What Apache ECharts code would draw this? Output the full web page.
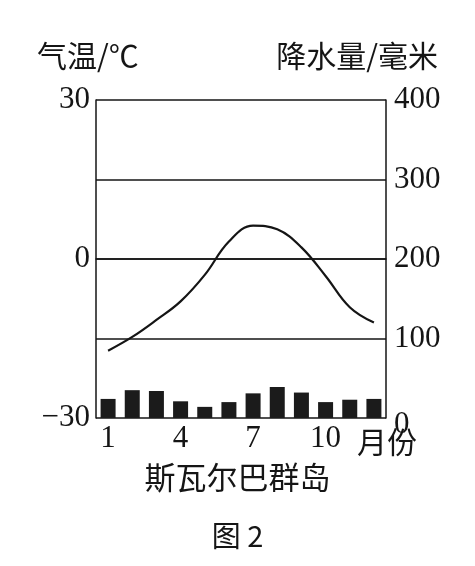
<!DOCTYPE html>
<html>
<head>
<meta charset="utf-8">
<script src="https://cdn.jsdelivr.net/npm/echarts@6/dist/echarts.min.js"></script>
<style>html,body{margin:0;padding:0;background:#fff}#c{width:475px;height:566px}</style>
</head>
<body>
<div id="c"></div>
<script>
var months = ['1','2','3','4','5','6','7','8','9','10','11','12'];
var temperature = [-17.3,-14.7,-11.5,-8.0,-3.0,3.3,6.3,5.6,2.2,-3.2,-9.1,-12.0];
var precipitation = [24,35,34,21,14,20,31,39,32,20,23,24];
var tempTicks = [30, 0, -30];
var shownMonths = ['1','4','7','10'];

var ink = '#151515';
var cjk = '"Noto Sans CJK SC", sans-serif';
var serif = '"Liberation Serif", "DejaVu Serif", serif';

var chart = echarts.init(document.getElementById('c'));
chart.setOption({
  backgroundColor: '#fff',
  animation: false,
  grid: { left: 96, right: 89, top: 100, bottom: 148 },
  xAxis: {
    type: 'category',
    data: months,
    boundaryGap: true,
    axisLine: { show: true, lineStyle: { color: ink, width: 1.5 } },
    axisTick: { show: false },
    axisLabel: {
      margin: 5,
      fontSize: 31, fontFamily: serif, color: ink,
      interval: 0,
      formatter: function (v) { return shownMonths.indexOf(v) >= 0 ? v : ''; }
    },
    splitLine: { show: false }
  },
  yAxis: [
    {
      type: 'value', min: -30, max: 30, interval: 15,
      axisLine: { show: true, lineStyle: { color: ink, width: 1.5 } },
      axisTick: { show: false },
      splitLine: { show: true, lineStyle: { color: ink, width: 1.5 } },
      axisLabel: {
        margin: 6, fontSize: 31, fontFamily: serif, color: ink,
        formatter: function (v) {
          if (tempTicks.indexOf(v) < 0) return '';
          return v < 0 ? '\u2212' + Math.abs(v) : String(v);
        }
      }
    },
    {
      type: 'value', min: 0, max: 400, interval: 100, position: 'right',
      axisLine: { show: true, lineStyle: { color: ink, width: 1.5 } },
      axisTick: { show: false },
      splitLine: { show: false },
      axisLabel: {
        margin: 8, fontSize: 31, fontFamily: serif, color: ink,
        formatter: function (v) { return v === 0 ? '{z|0}' : String(v); },
        rich: { z: { fontSize: 31, fontFamily: serif, color: ink, padding: [14, 0, 0, 0] } }
      }
    }
  ],
  series: [
    {
      type: 'bar', yAxisIndex: 1, data: precipitation,
      barWidth: 15,
      itemStyle: { color: '#1b1b1b' }
    },
    {
      type: 'line', yAxisIndex: 0, data: temperature,
      smooth: 0.4, showSymbol: false, symbol: 'none',
      lineStyle: { color: ink, width: 2.2 }
    }
  ],
  graphic: [
    { type: 'text', left: 37, top: 41, style: { text: '气温/℃', font: '30px ' + cjk, fill: ink } },
    { type: 'text', right: 37, top: 41, style: { text: '降水量/毫米', font: '30px ' + cjk, fill: ink } },
    { type: 'text', left: 357, top: 427, style: { text: '月份', font: '30px ' + cjk, fill: ink } },
    { type: 'text', left: 'center', top: 462, style: { text: '斯瓦尔巴群岛', font: '31px ' + cjk, fill: ink } },
    { type: 'text', left: 'center', top: 521, style: { text: '图 2', font: '29px ' + cjk, fill: ink } }
  ]
});
</script>
</body>
</html>
